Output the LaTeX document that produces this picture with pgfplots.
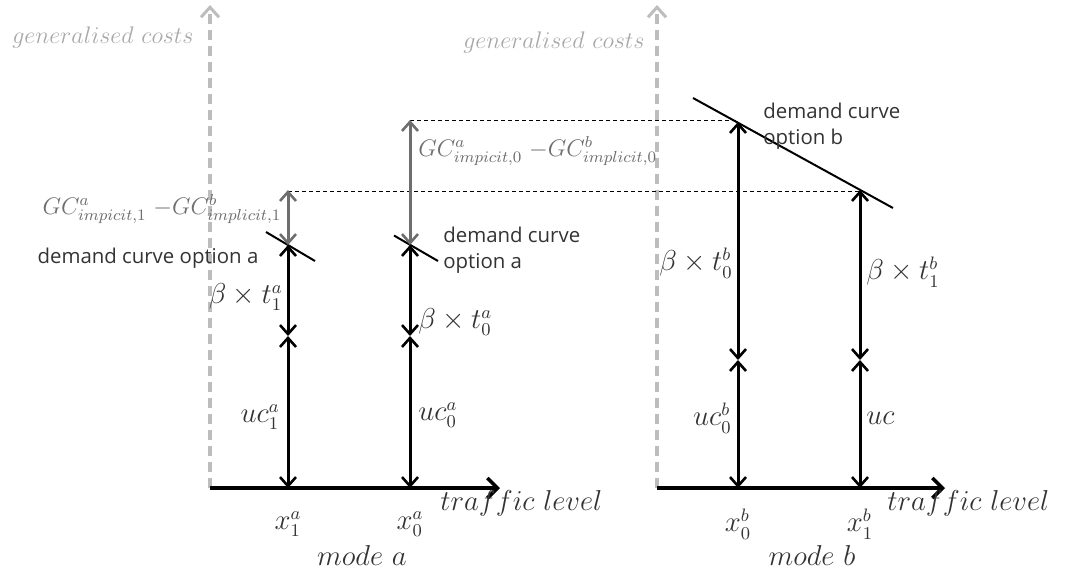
\documentclass[border=0pt]{standalone}
\usepackage{pgfplots}
\pgfplotsset{compat=1.18}
\usepackage{fontspec}
\usetikzlibrary{arrows.meta}
\newfontfamily\sansf{Open Sans}
\definecolor{axgray}{HTML}{BDBDBD}
\definecolor{txgray}{HTML}{A8A8A8}
\definecolor{gcgray}{HTML}{6E6E6E}
\definecolor{dk}{HTML}{333333}
\tikzset{
  darr/.style={line width=1.5pt, black, {Straight Barb[length=4.5pt,width=8pt,line width=1.3pt]}-{Straight Barb[length=4.5pt,width=8pt,line width=1.3pt]}},
  garr/.style={line width=1.5pt, gcgray, {Straight Barb[length=4.5pt,width=8pt,line width=1.3pt]}-{Straight Barb[length=4.5pt,width=8pt,line width=1.3pt]}},
  vax/.style={line width=1.6pt, axgray, dash pattern=on 5pt off 3pt, -{Straight Barb[length=5pt,width=9pt,line width=1.5pt]}},
  hax/.style={line width=2pt, black, -{Straight Barb[length=5pt,width=10pt,line width=1.8pt]}},
  dl/.style={line width=0.5pt, black, dash pattern=on 2pt off 1.5pt},
  dc/.style={line width=1pt, black},
  mt/.style={font=\fontsize{13.5}{15}\selectfont, text=dk, inner sep=0pt},
  lt/.style={font=\fontsize{12.3}{14}\selectfont, text=txgray, inner sep=0pt},
  gt/.style={font=\fontsize{12}{14}\selectfont, text=gcgray, inner sep=0pt},
  st/.style={font=\sansf\fontsize{10.2}{13}\selectfont, text=dk, inner sep=0pt},
}
\begin{document}
\begin{tikzpicture}
\begin{axis}[scale only axis, width=532.5pt, height=285pt,
  xmin=0, xmax=1065, ymin=0, ymax=570, y dir=reverse,
  axis line style={draw=none}, xtick=\empty, ytick=\empty, clip=false]
% vertical axes
\addplot[vax] coordinates {(210,488) (210,5)};
\addplot[vax] coordinates {(657,488) (657,5)};
% horizontal axes
\addplot[hax] coordinates {(210,488) (500,488)};
\addplot[hax] coordinates {(657,488) (945,488)};
% dashed reference lines
\addplot[dl] coordinates {(288,191) (860,191)};
\addplot[dl] coordinates {(410,120) (738,120)};
% demand curves
\addplot[dc] coordinates {(266,232) (315,261)};
\addplot[dc] coordinates {(394,235.5) (438,261)};
\addplot[dc] coordinates {(693,98) (893,208)};
% mode a arrows
\addplot[darr] coordinates {(288,488) (288,336)};
\addplot[darr] coordinates {(288,336) (288,245)};
\addplot[garr] coordinates {(288,245) (288,190)};
\addplot[darr] coordinates {(410,488) (410,336)};
\addplot[darr] coordinates {(410,336) (410,245)};
\addplot[garr] coordinates {(410,245) (410,120)};
% mode b arrows
\addplot[darr] coordinates {(738,488) (738,360)};
\addplot[darr] coordinates {(738,360) (738,122)};
\addplot[darr] coordinates {(860,488) (860,360)};
\addplot[darr] coordinates {(860,360) (860,190)};
% labels
\node[lt] at (axis cs:103,37) {$generalised\ costs$};
\node[lt] at (axis cs:554,42) {$generalised\ costs$};
\node[gt] at (axis cs:162,209) {$GC^a_{impicit,1}\;{-}GC^b_{implicit,1}$};
\node[gt, anchor=west] at (axis cs:418,151) {$GC^a_{impicit,0}\;{-}GC^b_{implicit,0}$};
\node[st] at (axis cs:148,258) {demand curve option a};
\node[st, anchor=west, align=left] at (axis cs:443,250) {demand curve\\option a};
\node[st, anchor=west, align=left] at (axis cs:763,126) {demand curve\\option b};
\node[mt, anchor=east] at (axis cs:283,297) {$\beta\times t_1^a$};
\node[mt, anchor=east] at (axis cs:280,417) {$uc_1^a$};
\node[mt, anchor=west] at (axis cs:418,322) {$\beta\times t_0^a$};
\node[mt, anchor=west] at (axis cs:418,415) {$uc_0^a$};
\node[mt, anchor=east] at (axis cs:733,263) {$\beta\times t_0^b$};
\node[mt, anchor=west] at (axis cs:866,272) {$\beta\times t_1^b$};
\node[mt, anchor=east] at (axis cs:732,418) {$uc_0^b$};
\node[mt, anchor=west] at (axis cs:866,418) {$uc$};
\node[mt] at (axis cs:288,524) {$x_1^a$};
\node[mt] at (axis cs:410,524) {$x_0^a$};
\node[mt] at (axis cs:738,524) {$x_0^b$};
\node[mt] at (axis cs:860,524) {$x_1^b$};
\node[mt, anchor=west] at (axis cs:440,503) {$traffic\ level$};
\node[mt, anchor=west] at (axis cs:887,503) {$traffic\ level$};
\node[mt] at (axis cs:362,555) {$mode\ a$};
\node[mt] at (axis cs:812,555) {$mode\ b$};
\end{axis}
\end{tikzpicture}
\end{document}
